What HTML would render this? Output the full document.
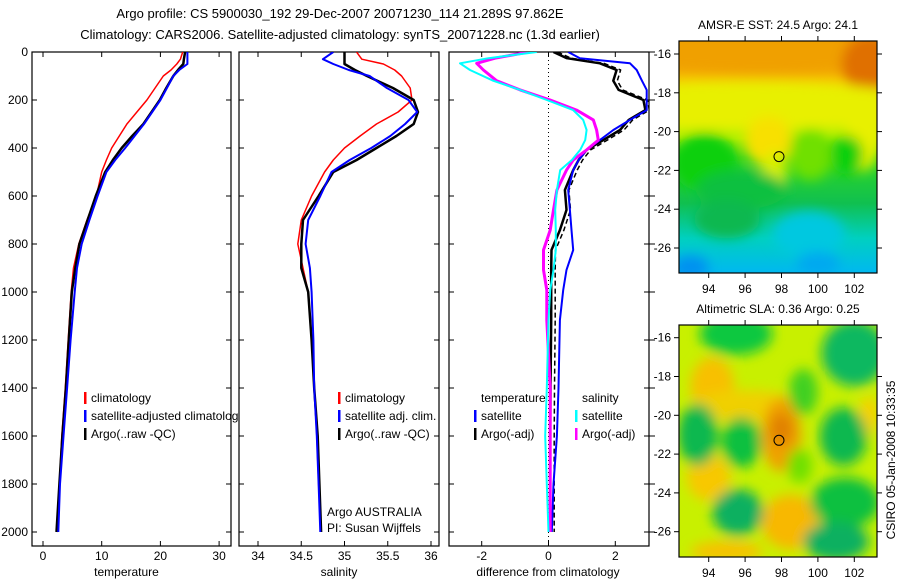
<!DOCTYPE html>
<html><head><meta charset="utf-8"><style>
body{margin:0;background:#fff;}
svg{display:block;font-family:"Liberation Sans",sans-serif;font-size:12px;}
</style></head><body>
<svg id="c" width="900" height="580" viewBox="0 0 900 580" xmlns="http://www.w3.org/2000/svg">
<defs>
<clipPath id="cp1"><rect x="32" y="52" width="199" height="494"/></clipPath>
<clipPath id="cl1"><rect x="32" y="52" width="207" height="494"/></clipPath>
<clipPath id="cp2"><rect x="239" y="52" width="200" height="494"/></clipPath>
<clipPath id="cp3"><rect x="449" y="52" width="200" height="494"/></clipPath>
<clipPath id="cm1"><rect x="679" y="41" width="198" height="232"/></clipPath>
<clipPath id="cm2"><rect x="679" y="325" width="198" height="232"/></clipPath>
<filter id="bl" x="-50%" y="-50%" width="200%" height="200%"><feGaussianBlur stdDeviation="6"/></filter>
<linearGradient id="sstg" x1="0" y1="0" x2="0" y2="1">
<stop offset="0" stop-color="#f0a010"/><stop offset="0.17" stop-color="#f8c000"/><stop offset="0.3" stop-color="#e8f000"/><stop offset="0.42" stop-color="#b0f000"/><stop offset="0.5" stop-color="#30d820"/><stop offset="0.7" stop-color="#10c050"/><stop offset="0.85" stop-color="#00d0c0"/><stop offset="1" stop-color="#00b8f0"/>
</linearGradient>
</defs>
<text x="340" y="18" text-anchor="middle" font-size="13">Argo profile: CS 5900030_192 29-Dec-2007 20071230_114 21.289S 97.862E</text>
<text x="340" y="39" text-anchor="middle" font-size="13">Climatology: CARS2006. Satellite-adjusted climatology: synTS_20071228.nc (1.3d earlier)</text>
<g id="g"></g>
</svg>
<script>
const depths=[0,30,50,75,100,150,200,250,300,350,400,450,500,600,700,800,900,1000,1200,1400,1600,1800,2000];
const tempClim=[23.8,23.4,22.8,21.8,20.5,19.1,17.7,16.0,14.3,13.0,11.7,10.8,10.0,9.1,7.5,6.1,5.2,4.8,4.3,3.8,3.2,2.8,2.4];
const tempSat=[24.6,24.6,24.6,23.2,22.2,21.1,20.0,18.6,17.2,15.6,14.0,12.3,10.8,9.3,7.9,6.6,5.8,5.4,4.7,4.1,3.5,2.9,2.6];
const tempArgo=[24.2,24.0,23.9,23.0,22.2,21.0,19.9,18.5,17.1,15.2,13.4,11.9,10.6,9.0,7.6,6.2,5.5,4.9,4.4,3.9,3.3,2.8,2.3];
const salClim=[35.14,35.20,35.45,35.58,35.66,35.76,35.78,35.62,35.37,35.18,35.00,34.87,34.77,34.62,34.50,34.46,34.52,34.58,34.62,34.65,34.68,34.70,34.73];
const salSat=[34.87,34.75,34.87,35.05,35.29,35.49,35.74,35.84,35.70,35.53,35.31,35.06,34.85,34.72,34.58,34.55,34.60,34.62,34.64,34.65,34.68,34.70,34.72];
const salArgo=[35.0,35.0,35.0,35.12,35.26,35.56,35.80,35.85,35.80,35.60,35.37,35.14,34.87,34.70,34.52,34.50,34.50,34.58,34.62,34.65,34.69,34.71,34.73];
const dDepths=[0,26,47,75,120,158,200,242,283,325,367,408,450,492,575,658,742,825,908,992,1117,1400,1600,1800,2000];
const dTempSat=[0.59,0.94,2.44,2.64,2.80,2.94,2.94,2.94,2.44,1.94,1.54,1.14,0.90,0.74,0.59,0.64,0.69,0.74,0.54,0.44,0.34,0.30,0.25,0.15,0.10];
const dTempArgo=[0.15,0.55,1.54,2.04,1.94,2.10,2.84,2.90,2.40,2.14,1.64,1.14,0.90,0.74,0.49,0.54,0.34,0.09,0.08,0.08,0.08,0.06,0.05,0.05,0.05];
const dSalSat=[-0.35,-1.80,-2.65,-2.35,-1.65,-0.85,-0.05,0.74,1.04,1.14,1.10,0.95,0.70,0.35,0.25,0.20,0.22,0.22,0.15,0.05,0.0,-0.05,-0.10,-0.05,0.0];
const dSalArgo=[-0.60,-1.60,-2.15,-1.95,-1.55,-0.85,0.05,0.84,1.34,1.44,1.49,1.14,0.74,0.54,0.25,0.15,0.05,-0.15,-0.15,-0.05,-0.05,0.05,0.05,0.05,0.05];
const depthTicks=[0,200,400,600,800,1000,1200,1400,1600,1800,2000];
const tempTicks=[0,10,20,30];
const salTicks=[34,34.5,35,35.5,36];
const diffTicks=[-2,0,2];
const lonTicks=[94,96,98,100,102];
const latTicks=[-16,-18,-20,-22,-24,-26];
const argoLon=97.862, argoLat=-21.289;

const NS='http://www.w3.org/2000/svg';
const G=document.getElementById('g');
function mk(t,a,p){const e=document.createElementNS(NS,t);for(const k in a)e.setAttribute(k,a[k]);(p||G).appendChild(e);return e;}
const yD=d=>52+d*0.24;
const xT=v=>43+5.87*v;
const xS=v=>258+86.5*(v-34);
const xF=v=>548.5+33.4*v;
const panels=[{x0:32,x1:231,xs:xT,ticks:tempTicks,label:'temperature',name:'temperature-panel'},
{x0:239,x1:439,xs:xS,ticks:salTicks,label:'salinity',name:'salinity-panel'},
{x0:449,x1:649,xs:xF,ticks:diffTicks,label:'difference from climatology',name:'difference-panel'}];
const yTop=52,yBot=546;
panels.forEach((p,i)=>{
  const g=mk('g',{});
  
  
  mk('rect',{x:p.x0,y:yTop,width:p.x1-p.x0,height:yBot-yTop,fill:'none',stroke:'#000','stroke-width':1.2},g);
  depthTicks.forEach(d=>{
    const y=yD(d);
    mk('line',{x1:p.x0,x2:p.x0+5,y1:y,y2:y,stroke:'#000'},g);
    mk('line',{x1:p.x1,x2:p.x1-5,y1:y,y2:y,stroke:'#000'},g);
    if(i==2) mk('line',{x1:p.x1,x2:p.x1+6,y1:y,y2:y,stroke:'#000'},g);
    if(i==0){const t=mk('text',{x:28,y:y+4,'text-anchor':'end'},g);t.textContent=d;
      }
  });
  p.ticks.forEach(v=>{
    const x=p.xs(v);
    mk('line',{x1:x,x2:x,y1:yTop,y2:yTop+5,stroke:'#000'},g);
    mk('line',{x1:x,x2:x,y1:yBot,y2:yBot-5,stroke:'#000'},g);
    const t=mk('text',{x:x,y:560,'text-anchor':'middle'},g);t.textContent=v;
    
  });
  const t=mk('text',{x:(i==2?548:(p.x0+p.x1)/2-(i==0?5:0)),y:576,'text-anchor':'middle'},g);t.textContent=p.label;
  
});
mk('line',{x1:xF(0),x2:xF(0),y1:yTop,y2:yBot,stroke:'#000','stroke-dasharray':'1,3'});
function line(ds,vs,xs,color,w,clip,name,dash){
  const pts=ds.map((d,k)=>xs(vs[k]).toFixed(1)+','+yD(d).toFixed(1)).join(' ');
  const e=mk('polyline',{points:pts,fill:'none',stroke:color,'stroke-width':w,'clip-path':'url(#'+clip+')','stroke-linejoin':'round'});
  if(dash)e.setAttribute('stroke-dasharray',dash);
  
  
}
line(depths,tempClim,xT,'#f00',1.5,'cp1','temp-climatology-line');
line(depths,tempArgo,xT,'#000',2.5,'cp1','temp-argo-line');
line(depths,tempSat,xT,'#00f',2,'cp1','temp-satellite-line');
line(depths,salClim,xS,'#f00',1.5,'cp2','sal-climatology-line');
line(depths,salArgo,xS,'#000',2.5,'cp2','sal-argo-line');
line(depths,salSat,xS,'#00f',2,'cp2','sal-satellite-line');
line(dDepths,dTempArgo.map(v=>v+0.12),xF,'#000',1.5,'cp3','dtemp-argo-raw-line','5,3');
line(dDepths,dTempArgo,xF,'#000',2.5,'cp3','dtemp-argo-line');
line(dDepths,dTempSat,xF,'#00f',2,'cp3','dtemp-satellite-line');
line(dDepths,dSalArgo,xF,'#f0f',3,'cp3','dsal-argo-line');
line(dDepths,dSalSat,xF,'#0ff',2,'cp3','dsal-satellite-line');
function leg(x,y,color,txt,clip,name){
  const g=mk('g',{'clip-path':clip?'url(#'+clip+')':''});
  
  
  if(color) mk('rect',{x:x-7,y:y-10,width:2.5,height:12,fill:color},g);
  const t=mk('text',{x:x,y:y},g);t.textContent=txt;
}
leg(91,402,'#f00','climatology','cl1','legend-climatology');
leg(91,420,'#00f','satellite-adjusted climatology','cl1','legend-satellite');
leg(91,438,'#000','Argo(..raw -QC)','cl1','legend-argo');
leg(345,402,'#f00','climatology','cp2','legend-sal-climatology');
leg(345,420,'#00f','satellite adj. clim.','cp2','legend-sal-satellite');
leg(345,438,'#000','Argo(..raw -QC)','cp2','legend-sal-argo');
leg(327,516,null,'Argo AUSTRALIA','cp2','argo-australia-note');
leg(327,532,null,'PI: Susan Wijffels','cp2','pi-note');
leg(481,402,null,'temperature',null,'legend-temperature-header');
leg(481,420,'#00f','satellite',null,'legend-dtemp-satellite');
leg(481,438,'#000','Argo(-adj)',null,'legend-dtemp-argo');
leg(582,402,null,'salinity',null,'legend-salinity-header');
leg(582,420,'#0ff','satellite',null,'legend-dsal-satellite');
leg(582,438,'#f0f','Argo(-adj)',null,'legend-dsal-argo');

const xL=lon=>708.7+(lon-94)*18.2;
function map(top,y16,title,clip,name,blobs,base){
  const yL=lat=>y16+(-16-lat)*19.4;
  const g=mk('g',{});
  
  
  const bg=mk('g',{'clip-path':'url(#'+clip+')'},g);
  mk('rect',{x:679,y:top,width:198,height:232,fill:base},bg);
  const bf=mk('g',{filter:'url(#bl)'},bg);
  blobs.forEach(b=>mk('ellipse',{cx:xL(b[0]),cy:yL(b[1]),rx:b[2]*18.2,ry:b[3]*19.4,fill:b[4]},bf));
  mk('rect',{x:679,y:top,width:198,height:232,fill:'none',stroke:'#000','stroke-width':1.2},g);
  lonTicks.forEach(l=>{const x=xL(l);
    mk('line',{x1:x,x2:x,y1:top,y2:top-5,stroke:'#000'},g);
    mk('line',{x1:x,x2:x,y1:top+232,y2:top+237,stroke:'#000'},g);
    const t=mk('text',{x:x,y:top+252,'text-anchor':'middle'},g);t.textContent=l;});
  latTicks.forEach(l=>{const y=yL(l);
    mk('line',{x1:679,x2:674,y1:y,y2:y,stroke:'#000'},g);
    mk('line',{x1:877,x2:882,y1:y,y2:y,stroke:'#000'},g);
    const t=mk('text',{x:671,y:y+4,'text-anchor':'end'},g);t.textContent=l;});
  const t=mk('text',{x:778,y:top-12,'text-anchor':'middle'},g);t.textContent=title;
  const c=mk('circle',{cx:xL(argoLon),cy:yL(argoLat),r:5,fill:'none',stroke:'#000'},g);
  
  
}
map(41,54,'AMSR-E SST: 24.5 Argo: 24.1','cm1','sst-map',[
 [97,-15.5,10,1.6,'#f0a000'],[102.8,-16.5,1.5,1.5,'#e07000'],
 [96,-18.6,10,1.2,'#e8f000'],[97.3,-20.5,1.3,1.3,'#f8e000'],[97.6,-22.2,0.7,1.2,'#d8f000'],
 [102.5,-20,1,2,'#e8f000'],[93.8,-21.6,1.8,1.5,'#10d010'],[99.6,-21.2,1.2,1.3,'#70e000'],
 [101.6,-21.2,0.9,1,'#10d010'],[95.8,-23,2.5,1,'#10c040'],
 [99.5,-25.3,2,1.2,'#00c8e0'],[100,-26.8,1.2,0.6,'#00a8f0'],[93,-27,1,0.6,'#0090f0'],[95,-24.5,1.8,1,'#10b850']
],'url(#sstg)');
map(325,337.7,'Altimetric SLA: 0.36 Argo: 0.25','cm2','sla-map',[
 [94.2,-18.5,1.2,1.5,'#f8c000'],[96,-19.5,3,0.8,'#f0d000'],[98,-21,1.1,1.9,'#f0a000'],[98,-20.7,0.6,0.8,'#e08000'],
 [94,-23.2,1.2,1.2,'#f8c800'],[98.5,-25.5,1.6,1.4,'#f8b800'],[95,-27,2,0.5,'#f8c000'],[102.8,-20,0.5,1,'#f8d000'],
 [95.5,-15.8,2,1.1,'#10c840'],[102,-16.8,1.8,1.7,'#10b860'],[93.4,-21,1.1,1.6,'#10b850'],[95.8,-21.4,1.1,1.3,'#10c040'],
 [101.4,-21.1,1.3,1.5,'#10b850'],[95.6,-25,1.4,1.2,'#10b060'],[101.5,-24.5,1.9,1.3,'#10c040'],[101,-26.5,1.8,1,'#10b060'],
 [99,-22.6,0.7,0.9,'#70e000'],[99.2,-18.8,0.8,1.2,'#40d020']
],'#c8f000');
const r=mk('text',{x:898,y:460,'text-anchor':'middle',transform:'rotate(-90 898 460)',dy:'-3'});
r.textContent='CSIRO 05-Jan-2008 10:33:35';


</script>
</body></html>
